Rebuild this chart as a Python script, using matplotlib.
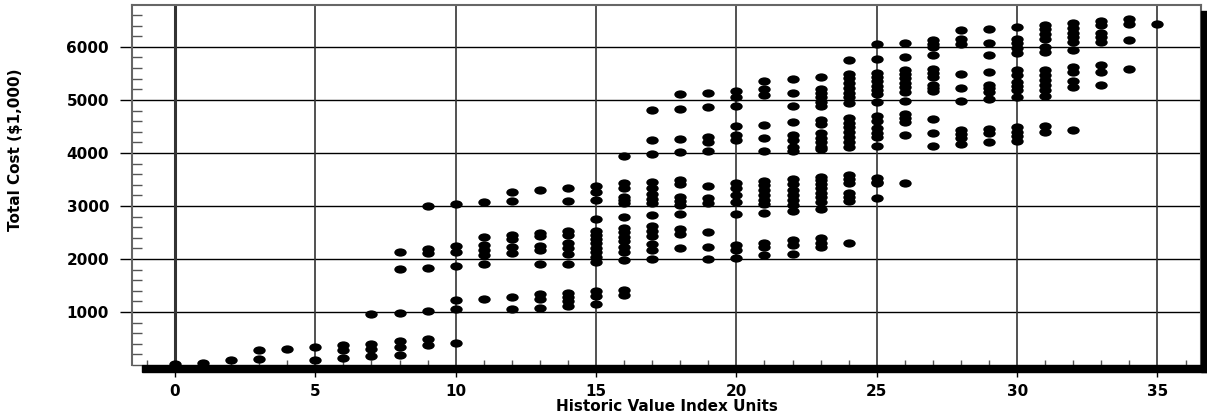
#!/usr/bin/env python3
"""Scatter of total cost against historic value index units."""

import matplotlib
matplotlib.use("Agg")
import matplotlib.pyplot as plt
import matplotlib.patches as mpatches
from matplotlib.path import Path
from matplotlib.transforms import Affine2D
from matplotlib.ticker import MultipleLocator

# Data, one line per index-unit column
units = (
    [0] + [1] + [2] + [3] * 2 + [4] + [5] * 2 + [6] * 3 + [7] * 4
    + [8] * 6 + [9] * 7 + [10] * 7 + [11] * 7 + [12] * 8 + [13] * 9
    + [14] * 12 + [15] * 15 + [16] * 16 + [17] * 15 + [18] * 13
    + [19] * 11 + [20] * 14 + [21] * 16 + [22] * 18 + [23] * 24
    + [24] * 22 + [25] * 19 + [26] * 14 + [27] * 13 + [28] * 10
    + [29] * 11 + [30] * 15 + [31] * 14 + [32] * 11 + [33] * 8
    + [34] * 4 + [35]
)
cost = [
    10,
    40,
    90,
    277, 107,
    300,
    345, 100,
    377, 283, 126,
    956, 402, 308, 170,
    2140, 1805, 978, 450, 337, 195,
    3006, 2182, 2107, 1830, 1025, 484, 371,
    3038, 2240, 2135, 1874, 1223, 1053, 406,
    3075, 2412, 2258, 2170, 2069, 1902, 1245,
    3270, 3094, 2443, 2380, 2223, 2104, 1289, 1047,
    3296, 2497, 2428, 2243, 2170, 1900, 1336, 1240, 1075,
    3340, 3094, 2525, 2450, 2300, 2210, 2100, 1912, 1365, 1277, 1200, 1119,
    3383, 3270, 3107, 2755, 2535, 2453, 2371, 2296, 2215, 2130, 2040, 1950,
    1396, 1300, 1145,
    3950, 3427, 3333, 3176, 3113, 3063, 2786, 2585, 2506, 2421, 2336, 2233,
    2122, 1984, 1415, 1321,
    4811, 4245, 3975, 3459, 3333, 3220, 3126, 3050, 2823, 2616, 2522, 2428,
    2290, 2170, 1997,
    5107, 4830, 4264, 4013, 3490, 3409, 3176, 3094, 3019, 2849, 2570, 2480,
    2201,
    5126, 4874, 4308, 4214, 4044, 3383, 3145, 3050, 2503, 2233, 2000,
    5176, 5063, 4893, 4509, 4346, 4245, 3440, 3346, 3208, 3082, 2849, 2264,
    2170, 2025,
    5365, 5202, 5094, 4528, 4289, 4044, 3472, 3396, 3302, 3208, 3113, 3038,
    2874, 2308, 2220, 2075,
    5396, 5138, 4893, 4579, 4340, 4245, 4119, 4044, 3502, 3409, 3302, 3208,
    3113, 3019, 2912, 2358, 2264, 2094,
    5434, 5202, 5138, 5050, 4968, 4887, 4623, 4541, 4371, 4289, 4214, 4119,
    4070, 3553, 3491, 3409, 3333, 3252, 3176, 3082, 2937, 2390, 2296, 2233,
    5748, 5491, 5409, 5327, 5220, 5138, 5063, 4937, 4654, 4572, 4484, 4390,
    4295, 4214, 4119, 3585, 3503, 3428, 3252, 3176, 3094, 2296,
    6050, 5774, 5516, 5440, 5358, 5264, 5189, 5107, 4968, 4698, 4610, 4465,
    4383, 4295, 4132, 3522, 3459, 3428, 3145,
    6069, 5817, 5566, 5491, 5409, 5315, 5239, 5157, 4987, 4736, 4654, 4591,
    4340, 3440,
    6138, 6063, 6000, 5849, 5585, 5516, 5440, 5283, 5220, 5176, 4635, 4371,
    4132,
    6321, 6145, 6050, 5491, 5220, 4987, 4434, 4352, 4277, 4164,
    6334, 6082, 5849, 5522, 5283, 5233, 5157, 5019, 4453, 4371, 4214,
    6384, 6145, 6069, 5975, 5881, 5566, 5472, 5346, 5264, 5189, 5063, 4497,
    4403, 4321, 4226,
    6415, 6334, 6240, 6145, 6007, 5912, 5566, 5472, 5377, 5283, 5189, 5075,
    4509, 4403,
    6447, 6352, 6270, 6182, 6088, 5943, 5629, 5535, 5365, 5252, 4434,
    6497, 6415, 6258, 6182, 6101, 5667, 5535, 5283,
    6528, 6434, 6132, 5579,
    6440,
]

x_ticks = [0, 5, 10, 15, 20, 25, 30, 35]
y_ticks = [1000, 2000, 3000, 4000, 5000, 6000]

plt.rcParams["font.family"] = ["DejaVu Sans"]
plt.rcParams["font.weight"] = "bold"

fig = plt.figure(figsize=(12.07, 4.19), dpi=100)
ax = fig.add_axes([132 / 1207, 1 - 365 / 419, 1069 / 1207, 360 / 419])

# flattened ellipse marker, like the original plot symbol
ellipse = Path.unit_circle().transformed(Affine2D().scale(1.5, 1.0))
ax.scatter(units, cost, marker=ellipse, s=80, color="black", linewidths=0, zorder=3)

ax.set_xlim(-1.53, 36.55)
ax.set_ylim(0, 6790)

ax.set_xticks(x_ticks)
ax.set_yticks(y_ticks)
ax.xaxis.set_minor_locator(MultipleLocator(1))
ax.yaxis.set_minor_locator(MultipleLocator(200))

# grid lines
for v in y_ticks:
    ax.axhline(v, color="black", lw=1.0, zorder=1)
for v in x_ticks:
    ax.axvline(v, color="#333333", lw=2.2 if v == 0 else 1.2,
               zorder=1)

ax.tick_params(axis="both", which="major", direction="out", length=8.5,
               width=1.0, color="black", labelsize=11, pad=5)
ax.tick_params(axis="y", which="major", pad=8)
ax.tick_params(axis="y", which="minor", direction="in", length=7.5,
               width=1.0, color="#555555")
ax.tick_params(axis="x", which="minor", direction="in", length=3.6,
               width=1.0, color="#555555")
for lbl in ax.get_xticklabels() + ax.get_yticklabels():
    lbl.set_fontweight("bold")

for side in ["left", "top", "right"]:
    ax.spines[side].set_color("#666666")
    ax.spines[side].set_linewidth(1.5)
ax.spines["bottom"].set_visible(False)

ax.set_xlabel("Historic Value Index Units", fontsize=11, fontweight="bold",
              labelpad=0)
ax.set_ylabel("Total Cost ($1,000)", fontsize=11, fontweight="bold")
ax.yaxis.set_label_coords(-0.102, 0.597)

# heavy drop-shadow bars along the bottom and right edges
fig.patches.append(mpatches.Rectangle(
    (142 / 1207, 1 - 372 / 419), (1207 - 142) / 1207, 7 / 419,
    transform=fig.transFigure, color="black", zorder=5))
fig.patches.append(mpatches.Rectangle(
    (1201 / 1207, 1 - 372 / 419), 6 / 1207, (372 - 11) / 419,
    transform=fig.transFigure, color="black", zorder=5))

fig.savefig("out.png", dpi=100, facecolor="white")
